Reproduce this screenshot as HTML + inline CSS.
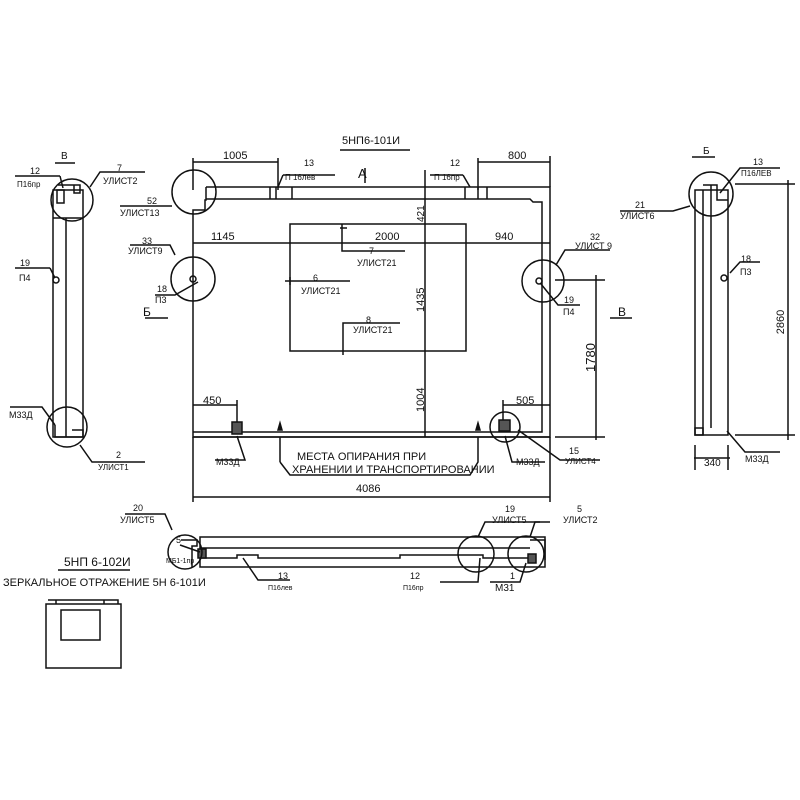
<!DOCTYPE html>
<html><head><meta charset="utf-8"><style>
html,body{margin:0;padding:0;background:#fff}
svg{display:block}
text{font-family:"Liberation Sans","DejaVu Sans",sans-serif;fill:#111}
</style></head><body>
<svg width="800" height="800" viewBox="0 0 800 800" xmlns="http://www.w3.org/2000/svg">
<g stroke="#111" stroke-width="1.5" fill="none">
<path d="M206,187 H550 V437 H193 V432"/>
<path d="M193,432 V210 H205 V200 H206 V187"/>
<path d="M206,199 H530 L533,202 H542 V432 H193"/>
<line x1="193" y1="437" x2="550" y2="437"/>
<line x1="270" y1="187" x2="270" y2="199"/><line x1="276" y1="187" x2="276" y2="199"/><line x1="292" y1="187" x2="292" y2="199"/>
<line x1="465" y1="187" x2="465" y2="199"/><line x1="478" y1="187" x2="478" y2="199"/><line x1="487" y1="187" x2="487" y2="199"/>
<rect x="290" y="224" width="176" height="127"/>
<circle cx="194" cy="192" r="22"/>
<circle cx="193" cy="279" r="22"/>
<circle cx="193" cy="279" r="3"/>
<circle cx="543" cy="281" r="21"/>
<circle cx="539" cy="281" r="3"/>
<circle cx="505" cy="427" r="15"/>
<line x1="193" y1="162" x2="278" y2="162"/><line x1="193" y1="158" x2="193" y2="190"/><line x1="278" y1="158" x2="278" y2="190"/>
<line x1="478" y1="162" x2="550" y2="162"/><line x1="478" y1="158" x2="478" y2="190"/><line x1="550" y1="156" x2="550" y2="187"/>
<line x1="193" y1="243" x2="550" y2="243"/>
<line x1="425" y1="170" x2="425" y2="437"/>
<line x1="193" y1="497" x2="550" y2="497"/><line x1="193" y1="437" x2="193" y2="502"/><line x1="550" y1="437" x2="550" y2="502"/>
<line x1="193" y1="405" x2="237" y2="405"/><line x1="237" y1="400" x2="237" y2="425"/>
<line x1="503" y1="405" x2="550" y2="405"/><line x1="503" y1="400" x2="503" y2="422"/>
<line x1="555" y1="280" x2="605" y2="280"/><line x1="596" y1="275" x2="596" y2="440"/><line x1="555" y1="437" x2="605" y2="437"/>
<path d="M283,175 L278,187"/><line x1="283" y1="175" x2="335" y2="175"/>
<path d="M463,175 L470,187"/><line x1="430" y1="175" x2="463" y2="175"/>
<path d="M342,224 V251 H405"/><line x1="340" y1="228" x2="347" y2="228"/>
<line x1="285" y1="281" x2="350" y2="281"/><line x1="290" y1="277" x2="290" y2="285"/>
<path d="M343,355 V323 H400"/>
<path d="M172,206 L120,206"/><path d="M175,255 L170,245 H130"/>
<path d="M198,282 L175,295 H155"/>
<path d="M556,265 L565,250 H610"/><path d="M541,284 L558,305 H580"/>
<path d="M237,436 L245,460 H215"/>
<path d="M505,436 L512,462 H545"/>
<path d="M518,430 L560,460 H600"/>
<line x1="280" y1="437" x2="280" y2="462"/><path d="M280,462 L290,475 H470 L478,462 V437"/>
<path d="M278,430 l2,-7 l2,7z" fill="#111"/><path d="M476,430 l2,-7 l2,7z" fill="#111"/>
<line x1="365" y1="168" x2="365" y2="183"/>
<rect x="232" y="422" width="10" height="12" fill="#555"/>
<rect x="499" y="420" width="11" height="11" fill="#555"/>
<line x1="145" y1="318" x2="168" y2="318"/><line x1="610" y1="318" x2="632" y2="318"/>
<rect x="53" y="190" width="30" height="247"/>
<line x1="66" y1="218" x2="66" y2="437"/>
<path d="M53,218 H83"/>
<path d="M58,185 H80 V193 H74 V185"/>
<rect x="57" y="190" width="7" height="13"/>
<path d="M55,425 V437 H83 V430 H72"/>
<circle cx="72" cy="200" r="21"/>
<circle cx="67" cy="427" r="20"/>
<circle cx="56" cy="280" r="3"/>
<line x1="55" y1="163" x2="75" y2="163"/>
<line x1="15" y1="176" x2="60" y2="176"/><path d="M60,176 L63,188"/>
<path d="M90,187 L100,172 H145"/>
<line x1="15" y1="268" x2="50" y2="268"/><path d="M50,268 L55,278"/>
<path d="M10,407 H42 L55,425"/>
<path d="M80,445 L92,462 H145"/>
<rect x="695" y="190" width="33" height="245"/>
<line x1="703" y1="190" x2="703" y2="435"/>
<line x1="711" y1="185" x2="711" y2="428"/>
<path d="M703,185 H717 V200 H728"/>
<rect x="695" y="428" width="8" height="7"/>
<circle cx="711" cy="194" r="22"/>
<circle cx="724" cy="278" r="3"/>
<line x1="692" y1="157" x2="715" y2="157"/>
<path d="M720,193 L740,168 H780"/>
<path d="M690,206 L673,211 H620"/>
<path d="M730,273 L740,262 H760"/>
<path d="M727,431 L745,452 H780"/>
<line x1="735" y1="184" x2="795" y2="184"/><line x1="735" y1="435" x2="795" y2="435"/>
<line x1="788" y1="180" x2="788" y2="440"/>
<line x1="694" y1="458" x2="730" y2="458"/><line x1="695" y1="445" x2="695" y2="470"/><line x1="728" y1="445" x2="728" y2="470"/>
<path d="M200,537 H545 V567 H200 Z"/>
<line x1="200" y1="548" x2="530" y2="548"/>
<path d="M200,558 H237 V555 H258 V558 H400 V555 H483 V558 H530"/>
<path d="M181,540 H197 V546 H192 V567"/>
<path d="M530,540 H545 V560"/>
<rect x="198" y="549" width="8" height="9" fill="#555"/>
<rect x="528" y="554" width="8" height="9" fill="#555"/>
<circle cx="185" cy="552" r="17"/>
<circle cx="476" cy="554" r="18"/>
<circle cx="526" cy="554" r="18"/>
<path d="M125,514 H165 L172,530"/>
<path d="M243,558 L258,580 H290"/>
<path d="M480,558 L478,582 H440"/>
<path d="M478,537 L485,522 H540"/>
<path d="M530,537 L535,522 H550"/>
<path d="M526,563 L520,582 H490"/>
<line x1="180" y1="545" x2="200" y2="552"/>
<line x1="58" y1="570" x2="130" y2="570"/>
<rect x="46" y="604" width="75" height="64"/>
<path d="M48,600 H118 V604"/>
<line x1="56" y1="600" x2="56" y2="604"/><line x1="104" y1="600" x2="104" y2="604"/>
<rect x="61" y="610" width="39" height="30"/>
<line x1="340" y1="150" x2="410" y2="150"/>
</g>
<g font-size="11">
<text x="342" y="144">5НП6-101И</text>
<text x="223" y="159">1005</text>
<text x="508" y="159">800</text>
<text x="304" y="166" font-size="9">13</text>
<text x="285" y="180" font-size="8">П 16лев</text>
<text x="450" y="166" font-size="9">12</text>
<text x="434" y="180" font-size="8">П 16пр</text>
<text x="358" y="178" font-size="13">А</text>
<text x="211" y="240">1145</text>
<text x="375" y="240">2000</text>
<text x="495" y="240">940</text>
<text x="369" y="254" font-size="9">7</text>
<text x="357" y="266" font-size="9">УЛИСТ21</text>
<text x="313" y="281" font-size="9">6</text>
<text x="301" y="294" font-size="9">УЛИСТ21</text>
<text x="366" y="323" font-size="9">8</text>
<text x="353" y="333" font-size="9">УЛИСТ21</text>
<text transform="translate(424,222) rotate(-90)" font-size="10">421</text>
<text transform="translate(424,312) rotate(-90)">1435</text>
<text transform="translate(424,412) rotate(-90)">1004</text>
<text transform="translate(595,372) rotate(-90)" font-size="13">1780</text>
<text x="203" y="404">450</text>
<text x="516" y="404">505</text>
<text x="147" y="204" font-size="9">52</text>
<text x="120" y="216" font-size="9">УЛИСТ13</text>
<text x="142" y="244" font-size="9">33</text>
<text x="128" y="254" font-size="9">УЛИСТ9</text>
<text x="157" y="292" font-size="9">18</text>
<text x="155" y="303" font-size="9">П3</text>
<text x="143" y="316" font-size="12">Б</text>
<text x="590" y="240" font-size="9">32</text>
<text x="575" y="249" font-size="9">УЛИСТ 9</text>
<text x="564" y="303" font-size="9">19</text>
<text x="563" y="315" font-size="9">П4</text>
<text x="618" y="316" font-size="12">В</text>
<text x="216" y="465" font-size="9">М33Д</text>
<text x="516" y="465" font-size="9">М33Д</text>
<text x="569" y="454" font-size="9">15</text>
<text x="565" y="464" font-size="8">УЛИСТ4</text>
<text x="297" y="460">МЕСТА ОПИРАНИЯ ПРИ</text>
<text x="292" y="473">ХРАНЕНИИ И ТРАНСПОРТИРОВАНИИ</text>
<text x="356" y="492">4086</text>
<text x="61" y="159" font-size="10">В</text>
<text x="30" y="174" font-size="9">12</text>
<text x="17" y="187" font-size="8">П16пр</text>
<text x="117" y="171" font-size="9">7</text>
<text x="103" y="184" font-size="9">УЛИСТ2</text>
<text x="20" y="266" font-size="9">19</text>
<text x="19" y="281" font-size="9">П4</text>
<text x="9" y="418" font-size="9">М33Д</text>
<text x="116" y="458" font-size="9">2</text>
<text x="98" y="470" font-size="8">УЛИСТ1</text>
<text x="703" y="154" font-size="10">Б</text>
<text x="753" y="165" font-size="9">13</text>
<text x="741" y="176" font-size="8">П16ЛЕВ</text>
<text x="635" y="208" font-size="9">21</text>
<text x="620" y="219" font-size="9">УЛИСТ6</text>
<text x="741" y="262" font-size="9">18</text>
<text x="740" y="275" font-size="9">П3</text>
<text transform="translate(784,322) rotate(-90)" font-size="11" text-anchor="middle">2860</text>
<text x="704" y="466" font-size="10">340</text>
<text x="745" y="462" font-size="9">М33Д</text>
<text x="133" y="511" font-size="9">20</text>
<text x="120" y="523" font-size="9">УЛИСТ5</text>
<text x="176" y="543" font-size="9">5</text>
<text x="166" y="563" font-size="7">МБ1-1пр</text>
<text x="278" y="579" font-size="9">13</text>
<text x="268" y="590" font-size="7">П16лев</text>
<text x="410" y="579" font-size="9">12</text>
<text x="403" y="590" font-size="7">П16пр</text>
<text x="505" y="512" font-size="9">19</text>
<text x="492" y="523" font-size="9">УЛИСТ5</text>
<text x="577" y="512" font-size="9">5</text>
<text x="563" y="523" font-size="9">УЛИСТ2</text>
<text x="510" y="579" font-size="9">1</text>
<text x="495" y="591" font-size="10">М31</text>
<text x="64" y="566" font-size="12">5НП 6-102И</text>
<text x="3" y="586" font-size="11">ЗЕРКАЛЬНОЕ ОТРАЖЕНИЕ 5Н 6-101И</text>
</g>
</svg>
</body></html>
